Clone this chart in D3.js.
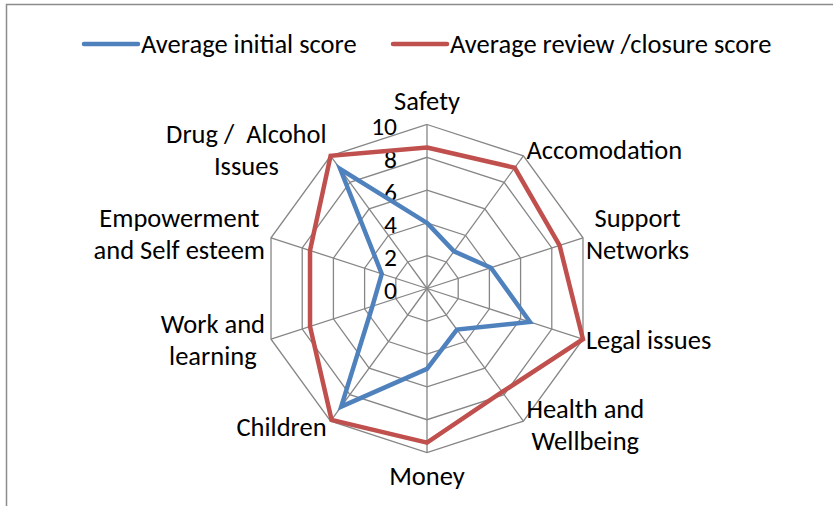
<!DOCTYPE html>
<html>
<head>
<meta charset="utf-8">
<script src="https://cdn.jsdelivr.net/npm/d3@7"></script>
<style>
  html, body { margin: 0; padding: 0; background: #fff; }
  svg { display: block; }
  text { font-family: Carlito, Calibri, Lato, "Open Sans", sans-serif; fill: #000; white-space: pre; }
</style>
</head>
<body>
<svg id="chart" width="833" height="506"></svg>
<script>
// ---- data ----
const categories = [
  "Safety", "Accomodation", "Support\nNetworks", "Legal issues",
  "Health and\nWellbeing", "Money", "Children", "Work and\nlearning",
  "Empowerment\nand Self esteem", "Drug /  Alcohol\nIssues"
];
const seriesNames = ["Average initial score", "Average review /closure score"];
const initialScores = [4.0, 2.8, 4.1, 6.6, 3.1, 4.9, 8.9, 3.5, 2.9, 9.0];
const reviewScores  = [8.6, 9.1, 8.5, 10.0, 7.8, 9.4, 9.9, 7.5, 7.5, 10.0];
const tickValues = [0, 2, 4, 6, 8, 10];
const seriesColors = ["#4F81BD", "#C0504D"];

// ---- layout ----
const W = 833, H = 506;
const cx = 427, cy = 288.5, R = 164;
const FS = 26.5;
const svg = d3.select("#chart");

// frame
svg.append("path")
  .attr("d", `M6.5,${H} L6.5,4.5 L${W},4.5`)
  .attr("fill", "none").attr("stroke", "#8c8c8c").attr("stroke-width", 1.5);

const r = d3.scaleLinear().domain([0, 10]).range([0, R]);
const angle = d3.scalePoint().domain(d3.range(categories.length))
  .range([0, 2 * Math.PI * (categories.length - 1) / categories.length]);
const pt = (i, v) => [cx + r(v) * Math.sin(angle(i)), cy - r(v) * Math.cos(angle(i))];

const grid = svg.append("g").attr("stroke", "#868686").attr("stroke-width", 1.3).attr("fill", "none");
tickValues.filter(t => t > 0).forEach(t => {
  grid.append("path").attr("d", d3.line()(categories.map((c, i) => pt(i, t))) + "Z");
});
categories.forEach((c, i) => {
  const [x, y] = pt(i, 10);
  grid.append("line").attr("x1", cx).attr("y1", cy).attr("x2", x).attr("y2", y);
});

// tick labels
svg.append("g").selectAll("text").data(tickValues).join("text")
  .attr("x", cx - 30).attr("y", d => cy - r(d) + 2)
  .attr("text-anchor", "end").attr("dominant-baseline", "central")
  .attr("font-size", FS - 1).text(d => d);

// series
[initialScores, reviewScores].forEach((vals, si) => {
  svg.append("path")
    .attr("d", d3.line()(vals.map((v, i) => pt(i, v))) + "Z")
    .attr("fill", "none").attr("stroke", seriesColors[si])
    .attr("stroke-width", 4.5).attr("stroke-linejoin", "miter");
});

// category labels
const lineH = 32;
categories.forEach((c, i) => {
  const lines = c.split("\n");
  const a = angle(i);
  const [vx, vy] = pt(i, 10);
  const g = svg.append("g");
  const texts = lines.map(l => g.append("text").attr("font-size", FS).attr("text-anchor", "middle").text(l));
  const widths = texts.map(t => t.node().getComputedTextLength());
  const bw = Math.max(...widths);
  const sx = Math.sin(a), sy = -Math.cos(a);
  let centerX, centerY;
  const bh = lines.length * lineH;
  const dy = Math.abs(sy) > 0.5 ? (sy < 0 ? -6 : 4) : (sy < 0 ? -3.5 : 1);
  if (Math.abs(sx) < 0.1) {
    centerX = vx;
    centerY = sy < 0 ? vy - 24 : vy + 23;
  } else if (sx > 0) {
    centerX = vx + 3 + bw / 2;
    centerY = vy + dy;
  } else {
    const gap = Math.abs(sy) > 0.5 ? 4 : 6;
    centerX = vx - gap - bw / 2;
    centerY = vy + (Math.abs(sy) > 0.5 ? (sy < 0 ? -6 : 6) : dy);
  }
  texts.forEach((t, k) => {
    t.attr("x", centerX)
     .attr("y", centerY - bh / 2 + lineH * (k + 0.5))
     .attr("dominant-baseline", "central");
  });
});

// legend
const legend = svg.append("g");
const legendItems = [{x: 82}, {x: 391}];
seriesNames.forEach((n, si) => {
  const x0 = legendItems[si].x;
  legend.append("line").attr("x1", x0 + 2).attr("x2", x0 + 56).attr("y1", 44).attr("y2", 44)
    .attr("stroke", seriesColors[si]).attr("stroke-width", 4.5).attr("stroke-linecap", "round");
  legend.append("text").attr("x", x0 + 59).attr("y", 44).attr("dominant-baseline", "central")
    .attr("font-size", FS).text(n);
});
</script>
</body>
</html>
